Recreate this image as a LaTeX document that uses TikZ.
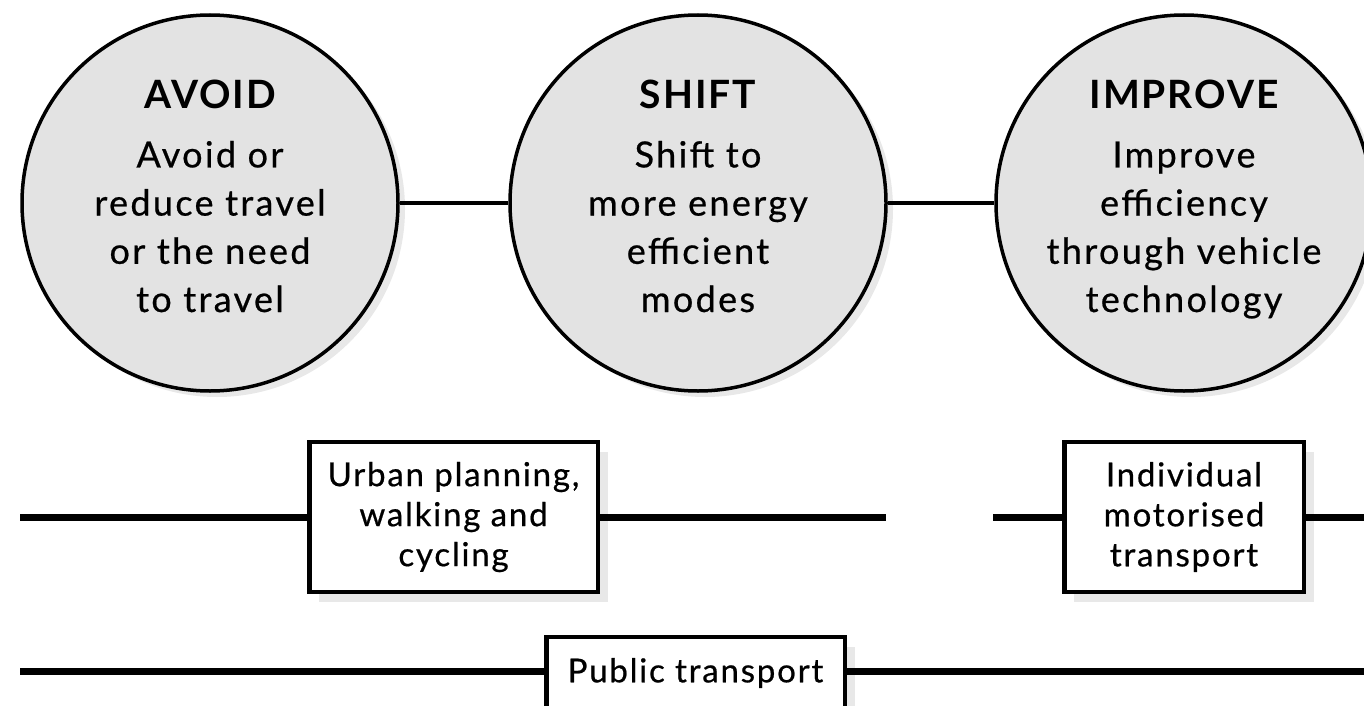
\documentclass[tikz,border=0pt]{standalone}
\usepackage{fontspec}
\setmainfont{Lato}
\newfontfamily\bodyf{Lato}[LetterSpace=6.5, FakeBold=0.6]
\newfontfamily\boxf{Lato}[LetterSpace=5.5, FakeBold=0.6]
\newfontfamily\headf{Lato}[LetterSpace=5]
\usetikzlibrary{shadows}
\begin{document}
\begin{tikzpicture}[x=1pt,y=-1pt,
  circ/.style={circle, draw=black, line width=3.5pt, fill=black!11, minimum size=376pt, inner sep=0pt,
    drop shadow={shadow xshift=7pt, shadow yshift=-6pt, fill=black!9, opacity=1}},
  head/.style={font=\headf\bfseries\fontsize{39}{42}\selectfont, anchor=base, inner sep=0pt},
  body/.style={font=\bodyf\fontsize{36}{48.2}\selectfont, align=center, anchor=base, inner sep=0pt},
  boxnode/.style={draw=black, line width=4.5pt, fill=white, inner sep=0pt, align=center,
    font=\boxf\fontsize{33}{40}\selectfont,
    drop shadow={shadow xshift=10pt, shadow yshift=-10pt, fill=black!9, opacity=1}},
  conn/.style={line width=4pt},
  bar/.style={line width=7pt}]
\useasboundingbox (0,0) rectangle (1364,706);
\clip (0,0) rectangle (1364,706);

% circles
\node[circ] (avoid) at (210,203) {};
\node[circ] (shift) at (698,203) {};
\node[circ] (improve) at (1184,203) {};
\draw[conn] (avoid) -- (shift);
\draw[conn] (shift) -- (improve);

\node[head] (avoidH) at (210,109) {AVOID};
\node[head] (shiftH) at (698,109) {SHIFT};
\node[head] (improveH) at (1184,109) {IMPROVE};
\node[body] (avoidT) at (210,312) {Avoid or\\reduce travel\\or the need\\to travel};
\node[body] (shiftT) at (698,312) {Shift to\\more energy\\efficient\\modes};
\node[body] (improveT) at (1184,312) {Improve\\efficiency\\through vehicle\\technology};

% bars
\coordinate (r1a) at (20,517);
\coordinate (r1b) at (886,517);
\coordinate (r1c) at (993,517);
\coordinate (r1d) at (1372,517);
\coordinate (r2a) at (20,671);
\coordinate (r2b) at (1372,671);

\node[boxnode, minimum width=288.5pt, minimum height=150pt] (urban) at (453.5,517)
  {Urban planning,\\walking and\\cycling};
\node[boxnode, minimum width=239.5pt, minimum height=150pt] (indiv) at (1184,517)
  {Individual\\motorised\\transport};
\node[boxnode, minimum width=298.5pt, minimum height=72pt] (public) at (695.5,673)
  {Public transport};

\draw[bar] (r1a) -- (urban.west);
\draw[bar] (urban.east) -- (r1b);
\draw[bar] (r1c) -- (indiv.west);
\draw[bar] (indiv.east) -- (r1d);
\draw[bar] (r2a) -- (public.west |- r2a);
\draw[bar] (public.east |- r2b) -- (r2b);
\end{tikzpicture}
\end{document}
